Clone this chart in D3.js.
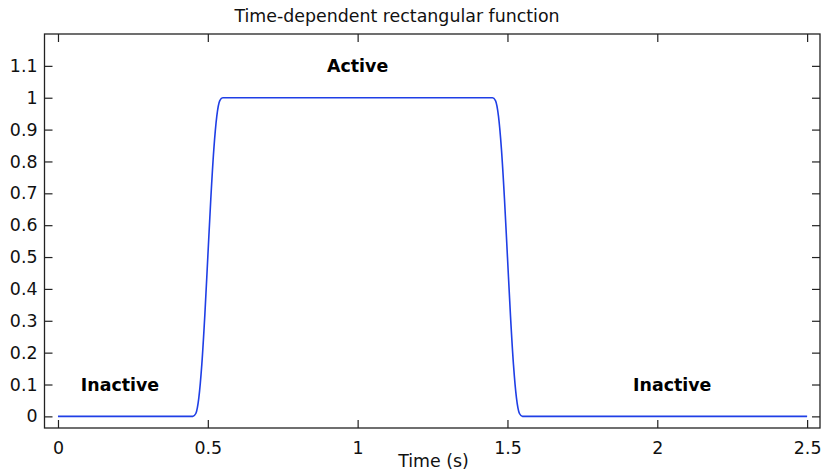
<!DOCTYPE html>
<html>
<head>
<meta charset="utf-8">
<script src="https://cdn.jsdelivr.net/npm/d3@7"></script>
<style>
  html, body { margin: 0; padding: 0; background: #fff; }
  svg { display: block; font-family: "DejaVu Sans", sans-serif; }
</style>
</head>
<body>
<svg id="chart" width="824" height="473"></svg>
<script>
// Smoothed rectangular pulse: time (s) and function value
const timeValues = [0, 0.45, 0.46, 0.47, 0.48, 0.49, 0.50, 0.51, 0.52, 0.53, 0.54, 0.55,
                    1.45, 1.46, 1.47, 1.48, 1.49, 1.50, 1.51, 1.52, 1.53, 1.54, 1.55, 2.5];
const pulseValues = [0, 0, 0.009, 0.058, 0.163, 0.317, 0.5, 0.683, 0.837, 0.942, 0.991, 1,
                     1, 0.991, 0.942, 0.837, 0.683, 0.5, 0.317, 0.163, 0.058, 0.009, 0, 0];

const xTicks = [0, 0.5, 1, 1.5, 2, 2.5];
const yTicks = [0, 0.1, 0.2, 0.3, 0.4, 0.5, 0.6, 0.7, 0.8, 0.9, 1, 1.1];

const annotations = [
  { text: "Active", t: 1.0, v: 1.1 },
  { text: "Inactive", t: 0.207, v: 0.1 },
  { text: "Inactive", t: 2.05, v: 0.1 }
];

const titleText = "Time-dependent rectangular function";
const xLabel = "Time (s)";

const svg = d3.select("#chart");
const plotLeft = 44.5, plotRight = 820, plotTop = 34, plotBottom = 428;

const x = d3.scaleLinear().domain([-0.045, 2.543]).range([plotLeft, plotRight]);
const y = d3.scaleLinear().domain([-0.0365, 1.2]).range([plotBottom, plotTop]);

const axisColor = "#222";
const tickLen = 8;
const fontSize = "17.4px";

// Frame ticks pointing inward on all four sides
const axB = svg.append("g").attr("transform", `translate(0,${plotBottom})`)
  .call(d3.axisBottom(x).tickValues(xTicks).tickSizeInner(-tickLen).tickSizeOuter(0)
    .tickPadding(14).tickFormat(d3.format("")));
const axT = svg.append("g").attr("transform", `translate(0,${plotTop})`)
  .call(d3.axisTop(x).tickValues(xTicks).tickSizeInner(-tickLen).tickSizeOuter(0).tickFormat(""));
const axL = svg.append("g").attr("transform", `translate(${plotLeft},0)`)
  .call(d3.axisLeft(y).tickValues(yTicks).tickSizeInner(-tickLen).tickSizeOuter(0)
    .tickPadding(7).tickFormat(d3.format("")));
const axR = svg.append("g").attr("transform", `translate(${plotRight},0)`)
  .call(d3.axisRight(y).tickValues(yTicks).tickSizeInner(-tickLen).tickSizeOuter(0).tickFormat(""));

[axB, axT, axL, axR].forEach(g => {
  g.select(".domain").remove();
  g.selectAll(".tick line").attr("stroke", axisColor).attr("stroke-width", 1.2);
  g.selectAll(".tick text").attr("fill", "#111").style("font-size", fontSize)
    .style("font-family", "'DejaVu Sans', sans-serif");
});

// Plot frame
svg.append("rect")
  .attr("x", plotLeft).attr("y", plotTop)
  .attr("width", plotRight - plotLeft).attr("height", plotBottom - plotTop)
  .attr("fill", "none").attr("stroke", axisColor).attr("stroke-width", 1.3);

// Pulse curve
const data = timeValues.map((t, i) => ({ t, v: pulseValues[i] }));
const line = d3.line().x(d => x(d.t)).y(d => y(d.v)).curve(d3.curveMonotoneX);
svg.append("path").datum(data)
  .attr("d", line)
  .attr("fill", "none")
  .attr("stroke", "#1f3fe6")
  .attr("stroke-width", 1.6)
  .attr("stroke-linejoin", "round");

// Region labels
svg.selectAll("text.note").data(annotations).join("text")
  .attr("class", "note")
  .attr("x", d => x(d.t)).attr("y", d => y(d.v))
  .attr("text-anchor", "middle").attr("dominant-baseline", "central")
  .style("font-size", "17.4px").style("font-weight", "bold").attr("fill", "#000")
  .text(d => d.text);

// Title and axis label
svg.append("text").attr("x", 397).attr("y", 21.5)
  .attr("text-anchor", "middle").style("font-size", fontSize).attr("fill", "#111")
  .text(titleText);
svg.append("text").attr("x", 433.5).attr("y", 466.5)
  .attr("text-anchor", "middle").style("font-size", fontSize).attr("fill", "#111")
  .text(xLabel);
</script>
</body>
</html>
